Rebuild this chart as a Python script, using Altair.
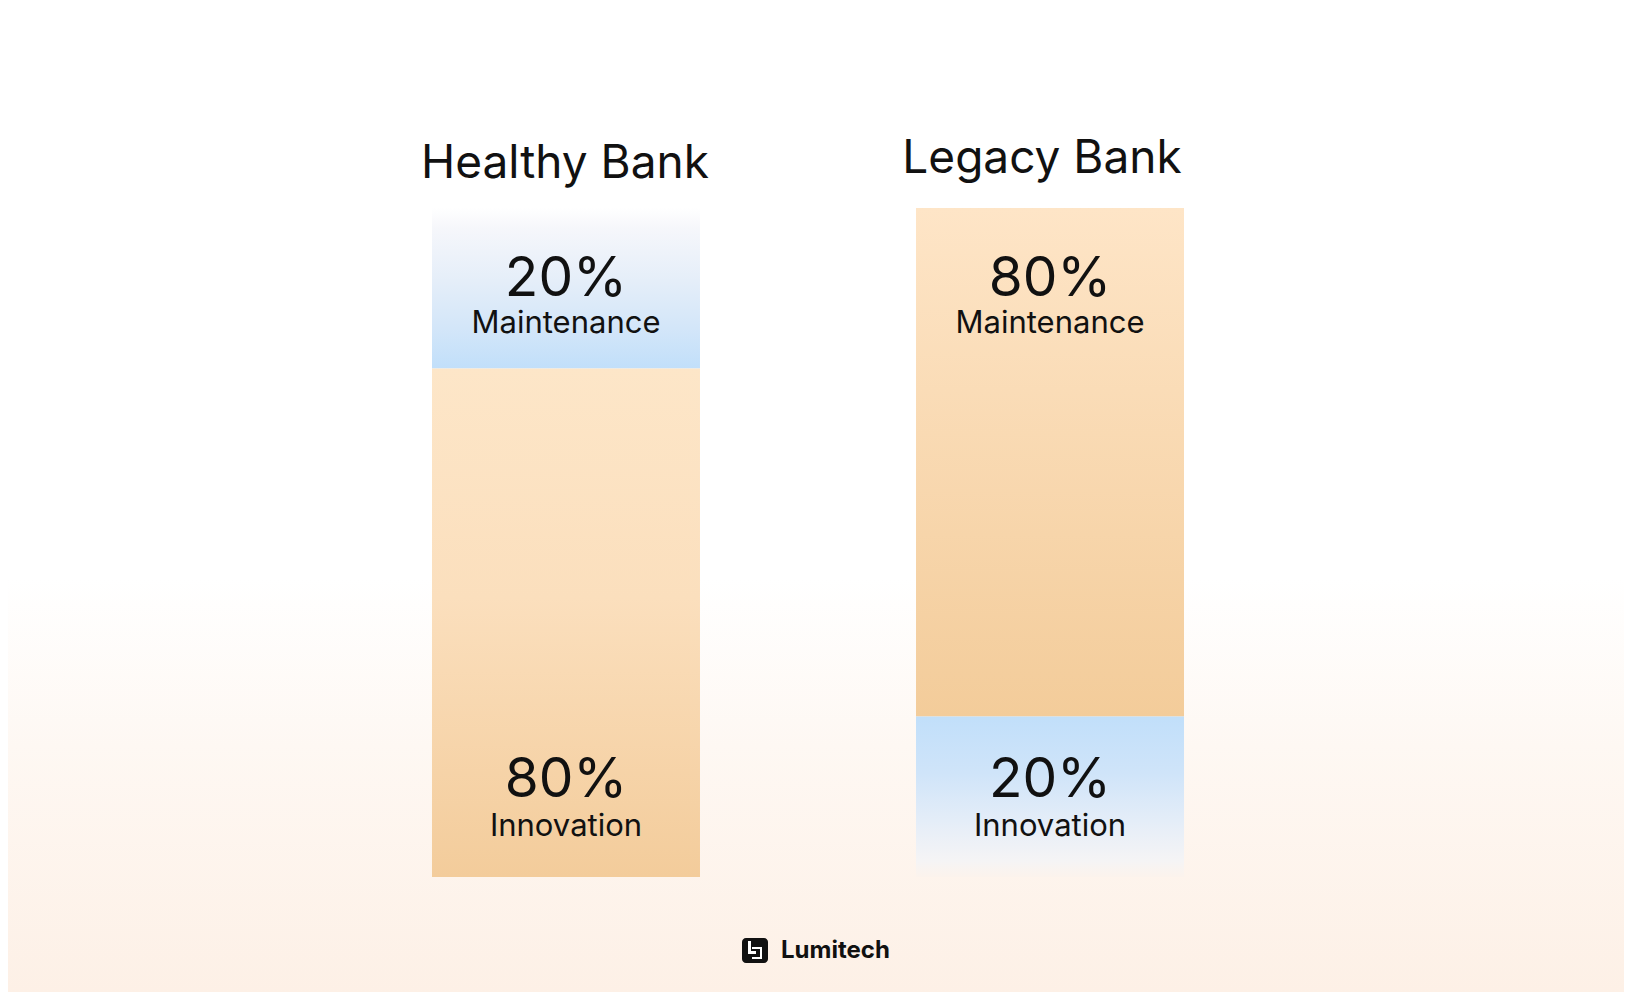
import altair as alt
import pandas as pd

# ---- data ----
banks = ["Healthy Bank", "Legacy Bank"]
segments = ["Maintenance", "Innovation"]
# percentage shown in the labels
label_pct = {"Healthy Bank": {"Maintenance": 20, "Innovation": 80},
             "Legacy Bank": {"Maintenance": 80, "Innovation": 20}}
# share of the bar height as drawn in the picture
drawn_share = {"Healthy Bank": {"Maintenance": 24, "Innovation": 76},
               "Legacy Bank": {"Maintenance": 76, "Innovation": 24}}
brand = "Lumitech"

rows = []
for b in banks:
    inn = drawn_share[b]["Innovation"]
    mnt = drawn_share[b]["Maintenance"]
    rows.append(dict(bank=b, segment="Innovation", start=0, end=inn,
                     pct=f'{label_pct[b]["Innovation"]}%', pos="bottom"))
    rows.append(dict(bank=b, segment="Maintenance", start=inn, end=inn + mnt,
                     pct=f'{label_pct[b]["Maintenance"]}%', pos="top"))
df = pd.DataFrame(rows)
titles = pd.DataFrame({"bank": banks, "top": [df[df.bank == b].end.max() for b in banks]})

W, H = 1616, 984
FONT = "Inter"

xs = alt.Scale(domain=banks, range=[0, 1600], paddingInner=0.4463, paddingOuter=0.876)
ys = alt.Scale(domain=[0, 100], range=[869, 200])
X = alt.X("bank:N", scale=xs, axis=None)


def grad(stops):
    return alt.LinearGradient(gradient="linear", x1=0, x2=0, y1=0, y2=1,
                              stops=[alt.GradientStop(color=c, offset=o) for o, c in stops])


grads = {
    ("Healthy Bank", "Maintenance"): [(0, "#ffffff"), (0.12, "#f6f7fb"), (0.45, "#e5eef9"),
                                      (0.75, "#d3e6f9"), (1, "#c1dffa")],
    ("Healthy Bank", "Innovation"): [(0, "#fde6c8"), (0.45, "#fbdfbd"), (1, "#f3cc9b")],
    ("Legacy Bank", "Maintenance"): [(0, "#fee5c7"), (1, "#f3cc9a")],
    ("Legacy Bank", "Innovation"): [(0, "#c1dffa"), (0.35, "#cfe4f9"), (0.65, "#e4edf8"),
                                    (0.9, "#f5f4f5"), (1, "#fcf3ec")],
}

one = alt.Data(values=[{}])

background = alt.Chart(one).mark_rect(
    fill=grad([(0, "#ffffff"), (0.58, "#ffffff"), (0.75, "#fef8f3"), (1, "#fdf0e6")])
).encode(x=alt.value(0), x2=alt.value(W), y=alt.value(0), y2=alt.value(H))

base = alt.Chart(df)
bars = []
for (b, s), st in grads.items():
    bars.append(
        base.transform_filter((alt.datum.bank == b) & (alt.datum.segment == s))
        .mark_bar(fill=grad(st), stroke=None)
        .encode(x=X, y=alt.Y("start:Q", scale=ys, axis=None), y2="end:Q")
    )

txt = dict(font=FONT, color="#111111", align="center", baseline="alphabetic")
top_pct = base.transform_filter(alt.datum.pos == "top").mark_text(fontSize=55, dy=88, **txt).encode(
    x=X, y=alt.Y("end:Q", scale=ys), text="pct:N")
top_name = base.transform_filter(alt.datum.pos == "top").mark_text(fontSize=31, dy=125, **txt).encode(
    x=X, y=alt.Y("end:Q", scale=ys), text="segment:N")
bot_pct = base.transform_filter(alt.datum.pos == "bottom").mark_text(fontSize=55, dy=-80, **txt).encode(
    x=X, y=alt.Y("start:Q", scale=ys), text="pct:N")
bot_name = base.transform_filter(alt.datum.pos == "bottom").mark_text(fontSize=31, dy=-41, **txt).encode(
    x=X, y=alt.Y("start:Q", scale=ys), text="segment:N")

tbase = alt.Chart(titles)
title_h = tbase.transform_filter(alt.datum.bank == banks[0]).mark_text(fontSize=46, dy=-30, dx=-1, **txt).encode(
    x=X, y=alt.Y("top:Q", scale=ys), text="bank:N")
title_l = tbase.transform_filter(alt.datum.bank == banks[1]).mark_text(fontSize=46, dy=-35, dx=-8, **txt).encode(
    x=X, y=alt.Y("top:Q", scale=ys), text="bank:N")

# logo (decoration)
logo_box = alt.Chart(one).mark_rect(fill="#111111", cornerRadius=4).encode(
    x=alt.value(734), x2=alt.value(760), y=alt.value(930), y2=alt.value(955))
logo_parts = []
for (x1, x2, y1, y2) in [(740, 743, 933, 945), (740, 748, 943, 946), (744, 754, 939, 941),
                         (752, 754, 939, 951), (744, 754, 949, 951)]:
    logo_parts.append(alt.Chart(one).mark_rect(fill="#ffffff").encode(
        x=alt.value(x1), x2=alt.value(x2), y=alt.value(y1), y2=alt.value(y2)))
logo_text = alt.Chart(one).mark_text(font=FONT, fontSize=24, fontWeight=700, color="#111111",
                                     align="left", baseline="alphabetic", text=brand).encode(
    x=alt.value(773), y=alt.value(950))

chart = alt.layer(background, *bars, top_pct, top_name, bot_pct, bot_name, title_h, title_l,
                  logo_box, *logo_parts, logo_text).properties(
    width=W, height=H, padding=0,
    autosize=alt.AutoSizeParams(type="fit", contains="padding"),
).configure_view(stroke=None).configure(background="#ffffff")

chart.save("out.html", embed_options={"renderer": "svg", "actions": False})
